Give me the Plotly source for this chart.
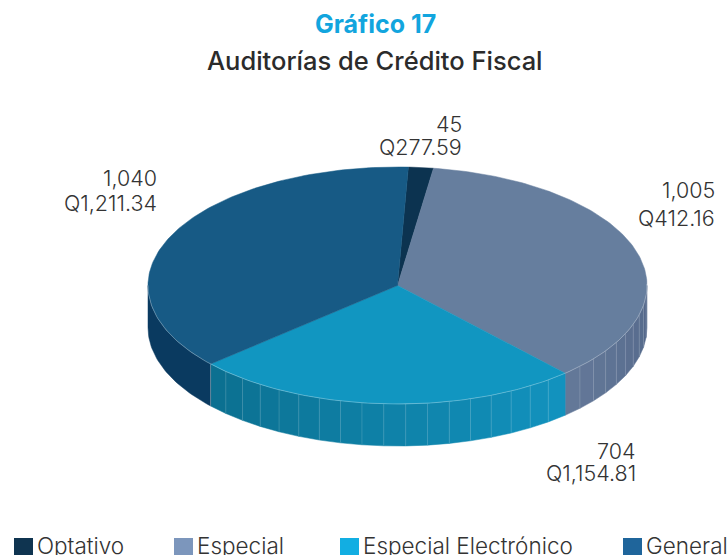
import math
import plotly.graph_objects as go

categories = ["Optativo", "Especial", "Especial Electrónico", "General"]
audits = [45, 1005, 704, 1040]
amounts = [277.59, 412.16, 1154.81, 1211.34]

top_colors = ["#0c3350", "#667e9e", "#1196c1", "#175a85"]
legend_colors = ["#0f3450", "#7c96bc", "#12aee2", "#1f659b"]
wall_from = [(12, 51, 80), (101, 122, 154), (11, 110, 142), (10, 58, 96)]
wall_to = [(12, 51, 80), (84, 104, 138), (18, 146, 190), (10, 58, 96)]

W, H = 728, 555
CX, CY, RX, RY, DEPTH = 397.5, 285.5, 249.5, 118.5, 42
START = 2.5
FONT = "Inter"
INK = "#333333"


def pt(deg, drop=0):
    r = math.radians(deg)
    return CX + RX * math.sin(r), CY - RY * math.cos(r) + drop


def arc(a, b, step=1.0, drop=0):
    n = max(2, int(abs(b - a) / step) + 1)
    return [pt(a + (b - a) * i / (n - 1), drop) for i in range(n)]


def lerp(c1, c2, t):
    return "rgb(%d,%d,%d)" % tuple(round(p + (q - p) * t) for p, q in zip(c1, c2))


def poly(points, fill, hover=None):
    xs = [p[0] for p in points] + [points[0][0]]
    ys = [p[1] for p in points] + [points[0][1]]
    return go.Scatter(x=xs, y=ys, mode="lines", fill="toself", fillcolor=fill,
                      line=dict(color=fill, width=0.5), showlegend=False,
                      hoverinfo="text" if hover else "skip", text=hover,
                      hoveron="fills" if hover else None)


def edge(points, color="rgba(255,255,255,0.33)", width=1):
    return go.Scatter(x=[p[0] for p in points], y=[p[1] for p in points], mode="lines",
                      line=dict(color=color, width=width), showlegend=False, hoverinfo="skip")


fig = go.Figure()
total = sum(audits)
spans = []
a = START
for v in audits:
    b = a + 360 * v / total
    spans.append((a, b))
    a = b

FACET = 5.0
for i, (a, b) in enumerate(spans):
    lo, hi = max(a, 90), min(b, 270)
    if lo >= hi:
        continue
    if categories[i] == "General":
        fig.add_trace(poly(arc(lo, hi) + arc(hi, lo, drop=DEPTH), lerp(wall_from[i], wall_to[i], 0)))
        fig.add_trace(edge([pt(lo), pt(lo, DEPTH)]))
        continue
    n = max(1, round((hi - lo) / FACET))
    for k in range(n):
        s = lo + (hi - lo) * k / n
        e = lo + (hi - lo) * (k + 1) / n
        t = (s - lo) / (hi - lo)
        col = lerp(wall_to[i], wall_from[i], t)
        fig.add_trace(poly(arc(s, e) + arc(e, s, drop=DEPTH), col))
        if k:
            fig.add_trace(edge([pt(s), pt(s, DEPTH)], "rgba(255,255,255,0.15)"))

for i, (a, b) in enumerate(spans):
    hover = f"{categories[i]}<br>{audits[i]:,}<br>Q{amounts[i]:,.2f}"
    fig.add_trace(poly([(CX, CY)] + arc(a, b), top_colors[i], hover))

fig.add_trace(edge(arc(spans[1][0] + 81, 270), "rgba(255,255,255,0.28)"))

label_pos = {"Optativo": (463, 124, 147), "Especial": (716, 190, 218),
             "Especial Electrónico": (637, 451, 473), "General": (158, 178, 203)}
ann = []
for c, v, m in zip(categories, audits, amounts):
    x, y1, y2 = label_pos[c]
    for y, txt in ((y1, f"{v:,}"), (y2, f"Q{m:,.2f}")):
        ann.append(dict(x=x + 1, y=y, xref="x", yref="y", text=txt, showarrow=False, xanchor="right",
                        yanchor="middle", font=dict(family=FONT, size=21.5, color=INK, weight=300)))

ann.append(dict(x=375, y=24, xref="x", yref="y", text="<b>Gráfico 17</b>", showarrow=False,
                font=dict(family=FONT, size=25, color="#12a5de")))
ann.append(dict(x=375, y=60, xref="x", yref="y", text="Auditorías de Crédito Fiscal", showarrow=False,
                font=dict(family=FONT, size=25.5, color="#2b2b2b", weight=500)))

legend_x = [14, 174, 340, 623]
shapes = []
for c, col, x in zip(categories, legend_colors, legend_x):
    shapes.append(dict(type="rect", xref="x", yref="y", x0=x, x1=x + 19, y0=538, y1=556,
                       fillcolor=col, line_width=0))
    ann.append(dict(x=x + 21, y=545, xref="x", yref="y", text=c, showarrow=False, xanchor="left",
                    yanchor="middle", font=dict(family=FONT, size=22.5, color=INK, weight=300)))

fig.update_layout(
    width=W, height=H, margin=dict(l=0, r=0, t=0, b=0), paper_bgcolor="white", plot_bgcolor="white",
    xaxis=dict(range=[0, W], visible=False, fixedrange=True),
    yaxis=dict(range=[H, 0], visible=False, fixedrange=True),
    showlegend=False, annotations=ann, shapes=shapes,
)
fig.write_html("out.html", config={"displayModeBar": False},
               post_script="document.body.style.margin='0';document.body.style.overflow='hidden';")
